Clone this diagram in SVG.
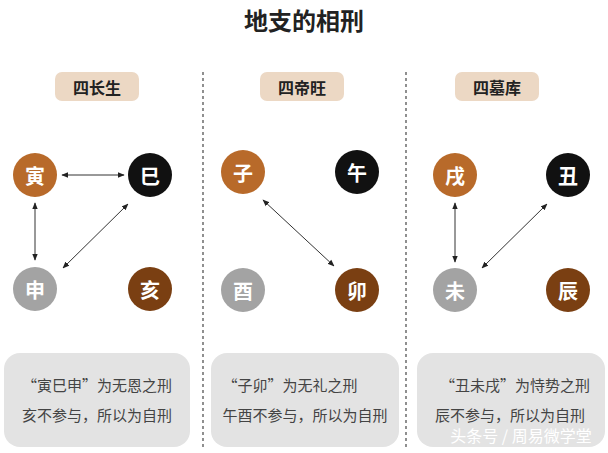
<svg xmlns="http://www.w3.org/2000/svg" width="608" height="453" viewBox="0 0 608 453">
<style>
.t{font-family:"Noto Sans CJK SC",sans-serif}
.n{font-family:"Noto Sans CJK SC",sans-serif;font-size:20px;font-weight:bold;fill:#fff;text-anchor:middle;dominant-baseline:central}
.lb{fill:#ecd8c4}
.h{font-family:"Noto Sans CJK SC",sans-serif;font-size:16px;font-weight:bold;fill:#222;text-anchor:middle;dominant-baseline:central}
.b{fill:#e3e3e3}
.d{font-family:"Noto Sans CJK SC",sans-serif;font-size:15px;fill:#444;text-anchor:middle}
.c{stroke:#333;stroke-width:1;fill:none;marker-start:url(#a);marker-end:url(#a)}
.dash{stroke:#555;stroke-width:1.3;stroke-dasharray:3 3}
</style>
<defs><marker id="a" viewBox="0 0 10 10" refX="9" refY="5" markerWidth="7" markerHeight="7" orient="auto-start-reverse"><path d="M0,1 L10,5 L0,9 z" fill="#222"/></marker></defs>
<rect width="608" height="453" fill="#fff"/>
<text class="t" x="304" y="30" font-size="24" font-weight="bold" text-anchor="middle" fill="#222">地支的相刑</text>
<line class="dash" x1="203" y1="72" x2="203" y2="448"/>
<line class="dash" x1="406" y1="72" x2="406" y2="448"/>
<g id="h1"><rect class="lb" x="55" y="72" width="84" height="29" rx="7"/><text class="h" x="97" y="87">四长生</text></g>
<g id="h2"><rect class="lb" x="260" y="72" width="84" height="29" rx="7"/><text class="h" x="302" y="87">四帝旺</text></g>
<g id="h3"><rect class="lb" x="455" y="72" width="84" height="29" rx="7"/><text class="h" x="497" y="87">四墓库</text></g>
<g id="yin"><circle cx="35" cy="175" r="22" fill="#b86a2a"/><text class="n" x="35" y="175">寅</text></g>
<g id="si"><circle cx="150" cy="175" r="22" fill="#111"/><text class="n" x="150" y="175">巳</text></g>
<g id="shen"><circle cx="35" cy="289" r="22" fill="#a3a3a3"/><text class="n" x="35" y="289">申</text></g>
<g id="hai"><circle cx="150" cy="289" r="22" fill="#7a3f12"/><text class="n" x="150" y="289">亥</text></g>
<g id="zi"><circle cx="243" cy="172" r="22" fill="#b86a2a"/><text class="n" x="243" y="172">子</text></g>
<g id="wu"><circle cx="357" cy="172" r="22" fill="#111"/><text class="n" x="357" y="172">午</text></g>
<g id="you"><circle cx="243" cy="290" r="22" fill="#a3a3a3"/><text class="n" x="243" y="290">酉</text></g>
<g id="mao"><circle cx="357" cy="290" r="22" fill="#7a3f12"/><text class="n" x="357" y="290">卯</text></g>
<g id="xu"><circle cx="455" cy="175" r="22" fill="#b86a2a"/><text class="n" x="455" y="175">戌</text></g>
<g id="chou"><circle cx="568" cy="175" r="22" fill="#111"/><text class="n" x="568" y="175">丑</text></g>
<g id="wei"><circle cx="455" cy="290" r="22" fill="#a3a3a3"/><text class="n" x="455" y="290">未</text></g>
<g id="chen"><circle cx="568" cy="290" r="22" fill="#7a3f12"/><text class="n" x="568" y="290">辰</text></g>
<g id="connectors">
<line class="c" x1="62" y1="175" x2="124" y2="175"/>
<line class="c" x1="35" y1="203" x2="35" y2="260"/>
<line class="c" x1="63" y1="268" x2="128" y2="204"/>
<line class="c" x1="263" y1="200" x2="334" y2="266"/>
<line class="c" x1="455" y1="203" x2="455" y2="262"/>
<line class="c" x1="482" y1="268" x2="547" y2="204"/>
</g>
<g id="n1"><rect class="b" x="4" y="353" width="186" height="94" rx="16"/><text class="d" x="97" y="391">“寅巳申”为无恩之刑</text><text class="d" x="97" y="421">亥不参与，所以为自刑</text></g>
<g id="n2"><rect class="b" x="211" y="353" width="188" height="94" rx="16"/><text class="d" x="290" y="391">“子卯”为无礼之刑</text><text class="d" x="305" y="421">午酉不参与，所以为自刑</text></g>
<g id="n3"><rect class="b" x="417" y="353" width="188" height="94" rx="16"/><text class="d" x="515" y="391">“丑未戌”为恃势之刑</text><text class="d" x="510" y="421">辰不参与，所以为自刑</text></g>
<text class="t" x="521" y="442" font-size="16" fill="#fff" text-anchor="middle">头条号 / 周易微学堂</text>
</svg>
